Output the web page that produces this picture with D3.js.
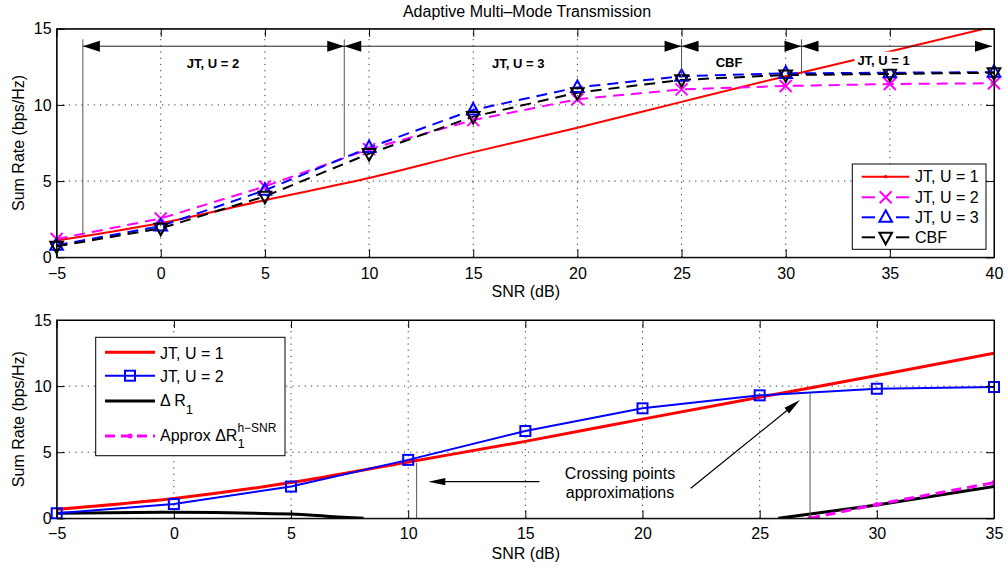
<!DOCTYPE html>
<html><head><meta charset="utf-8">
<script src="https://cdn.jsdelivr.net/npm/d3@7/dist/d3.min.js"></script>
<style>
html,body{margin:0;padding:0;background:#fff;}
svg{display:block;font-family:"Liberation Sans",Arial,Helvetica,sans-serif;}
</style></head>
<body>
<svg id="chart" width="1007" height="570"></svg>
<script>
// ---------------- DATA ----------------
const snrTop = [-5, 0, 5, 10, 15, 20, 25, 30, 35, 40];
const jtU1Top = [1.1, 2.25, 3.75, 5.2, 6.9, 8.5, 10.2, 11.88, 13.5, 15.15];
const jtU2Top = [1.2, 2.55, 4.65, 7.1, 9.0, 10.37, 11.02, 11.24, 11.37, 11.42];
const jtU3Top = [0.8, 2.05, 4.4, 7.2, 9.67, 11.15, 11.88, 12.07, 12.11, 12.15];
const cbfTop = [0.72, 1.9, 4.0, 6.8, 9.23, 10.8, 11.64, 11.96, 12.03, 12.11];

const modeBounds = [-3.74, 8.81, 25, 30.76, 40];       // switching SNRs (dB)
const modeBoundTops = [14.3, 14.3, 14.3, 14.3];         // top of vertical markers
const modeBoundBottoms = [1.45, 6.6, 11.75, 12.0];      // curve value at switching SNR
const modeArrowLevel = 13.85;
const modeLabels = ["JT, U = 2", "JT, U = 3", "CBF", "JT, U = 1"];
const modeLabelX = [2.51, 17.16, 27.28, 34.7];
const modeLabelY = [12.72, 12.72, 12.8, 12.94];

const snrBot = [-5, 0, 5, 10, 15, 20, 25, 30, 35];
const jtU1Bot = [0.68, 1.5, 2.7, 4.26, 5.82, 7.5, 9.16, 10.8, 12.48];
const jtU2Bot = [0.38, 1.08, 2.4, 4.42, 6.6, 8.32, 9.3, 9.8, 9.93];
const deltaSnrA = [-5, 0, 5, 6.8, 8.1];
const deltaValA = [0.38, 0.45, 0.32, 0.12, 0];
const deltaSnrB = [25.8, 30, 35];
const deltaValB = [0, 1.0, 2.4];
const approxSnr = [27.15, 30, 35];
const approxVal = [0, 1.05, 2.7];
const crossSnr = [10.36, 27.15];
const crossVal = [4.2, 9.45];

const xTicksTop = [-5, 0, 5, 10, 15, 20, 25, 30, 35, 40];
const xTicksBot = [-5, 0, 5, 10, 15, 20, 25, 30, 35];
const yTicks = [0, 5, 10, 15];

// ---------------- SETUP ----------------
const svg = d3.select("#chart");
const FONT = 16;
const fmt = v => (v < 0 ? "\u2212" + Math.abs(v) : String(v));

function drawAxes(g, x, y, xTicks) {
  const [x0, x1] = x.range(), [y0, y1] = y.range();
  const grid = g.append("g").attr("stroke", "#333").attr("stroke-width", 1)
    .attr("stroke-dasharray", "1.2,5");
  xTicks.forEach(t => {
    if (t === xTicks[0] || t === xTicks[xTicks.length - 1]) return;
    grid.append("line").attr("x1", x(t)).attr("x2", x(t)).attr("y1", y0).attr("y2", y1);
  });
  yTicks.forEach(t => {
    if (t === yTicks[0] || t === yTicks[yTicks.length - 1]) return;
    grid.append("line").attr("x1", x0).attr("x2", x1).attr("y1", y(t)).attr("y2", y(t));
  });
}

function drawFrame(g, x, y, xTicks, tickLabelBase, xLabelBase) {
  const [x0, x1] = x.range(), [y0, y1] = y.range();
  const TL = 8;
  const bottom = d3.axisBottom(x).tickValues(xTicks).tickFormat(fmt).tickSizeInner(-TL).tickSizeOuter(0).tickPadding(TL + 7);
  const top = d3.axisTop(x).tickValues(xTicks).tickFormat("").tickSizeInner(-TL).tickSizeOuter(0);
  const left = d3.axisLeft(y).tickValues(yTicks).tickFormat(fmt).tickSizeInner(-TL).tickSizeOuter(0).tickPadding(TL + 5);
  const right = d3.axisRight(y).tickValues(yTicks).tickFormat("").tickSizeInner(-TL).tickSizeOuter(0);
  const style = sel => {
    sel.selectAll("path").attr("stroke", "#000").attr("stroke-width", 1);
    sel.selectAll("line").attr("stroke", "#000").attr("stroke-width", 1);
    sel.selectAll("text").attr("fill", "#000").style("font-size", FONT + "px")
      .style("font-family", '"Liberation Sans",Arial,sans-serif');
  };
  g.append("g").attr("transform", `translate(0,${y0})`).call(bottom).call(style)
    .selectAll("text").attr("dy", null).attr("y", null)
    .attr("transform", `translate(0,${tickLabelBase - y0})`);
  g.append("g").attr("transform", `translate(0,${y1})`).call(top).call(style);
  g.append("g").attr("transform", `translate(${x0},0)`).call(left).call(style)
    .selectAll("text").attr("x", -5);
  g.append("g").attr("transform", `translate(${x1},0)`).call(right).call(style);
  g.append("rect").attr("x", x0).attr("y", y1).attr("width", x1 - x0).attr("height", y0 - y1)
    .attr("fill", "none").attr("stroke", "#000").attr("stroke-width", 1);
  g.append("text").attr("x", (x0 + x1) / 2 + 0.5).attr("y", xLabelBase).attr("text-anchor", "middle")
    .style("font-size", FONT + "px").text("SNR (dB)");
  g.append("text").attr("transform", `translate(23.5,${(y0 + y1) / 2}) rotate(-90)`)
    .attr("text-anchor", "middle").style("font-size", FONT + "px").text("Sum Rate (bps/Hz)");
}

function arrowHead(g, xt, yt, angle, len, half, fill) {
  const ca = Math.cos(angle), sa = Math.sin(angle);
  const bx = xt - len * ca, by = yt - len * sa;
  const px = -sa * half, py = ca * half;
  g.append("path").attr("d", `M${xt},${yt}L${bx + px},${by + py}L${bx - px},${by - py}Z`)
    .attr("fill", fill || "#000").attr("stroke", "none");
}

function markerX(g, cx, cy, s, color) {
  g.append("path").attr("d", `M${cx - s},${cy - s}L${cx + s},${cy + s}M${cx - s},${cy + s}L${cx + s},${cy - s}`)
    .attr("stroke", color).attr("stroke-width", 2).attr("fill", "none");
}
function markerTri(g, cx, cy, s, color, up) {
  const d = up
    ? `M${cx},${cy - s}L${cx + s * 0.9},${cy + s * 0.65}L${cx - s * 0.9},${cy + s * 0.65}Z`
    : `M${cx},${cy + s}L${cx + s * 0.9},${cy - s * 0.65}L${cx - s * 0.9},${cy - s * 0.65}Z`;
  g.append("path").attr("d", d).attr("stroke", color).attr("stroke-width", 2).attr("fill", "none");
}
function markerSq(g, cx, cy, s, color) {
  g.append("rect").attr("x", cx - s).attr("y", cy - s).attr("width", 2 * s).attr("height", 2 * s)
    .attr("stroke", color).attr("stroke-width", 2).attr("fill", "none");
}

// ---------------- TITLE ----------------
svg.append("text").attr("x", 527).attr("y", 16.5).attr("text-anchor", "middle")
  .style("font-size", "16px").text("Adaptive Multi\u2013Mode Transmission");

// ---------------- TOP CHART ----------------
const xT = d3.scaleLinear().domain([-5, 40]).range([56.6, 994]);
const yT = d3.scaleLinear().domain([0, 15]).range([257.3, 28.7]);
const gT = svg.append("g");
drawAxes(gT, xT, yT, xTicksTop);

svg.append("defs").append("clipPath").attr("id", "clipTop").append("rect")
  .attr("x", 56.6).attr("y", 28.7).attr("width", 994 - 56.6).attr("height", 257.3 - 28.7);

const plotT = gT.append("g").attr("clip-path", "url(#clipTop)");
const lineT = d3.line().x(d => xT(d[0])).y(d => yT(d[1]));
const zipT = arr => snrTop.map((s, i) => [s, arr[i]]);

plotT.append("path").datum(zipT(jtU1Top)).attr("d", lineT.curve(d3.curveMonotoneX))
  .attr("fill", "none").attr("stroke", "#ff0000").attr("stroke-width", 2);
lineT.curve(d3.curveLinear);
const DASH = "11,7";
[[jtU2Top, "#ff00ff"], [jtU3Top, "#0000ff"], [cbfTop, "#000000"]].forEach(([arr, c]) => {
  plotT.append("path").datum(zipT(arr)).attr("d", lineT).attr("fill", "none")
    .attr("stroke", c).attr("stroke-width", 2).attr("stroke-dasharray", DASH);
});
const mT = gT.append("g");
snrTop.forEach((s, i) => markerX(mT, xT(s), yT(jtU2Top[i]), 6, "#ff00ff"));
snrTop.forEach((s, i) => markerTri(mT, xT(s), yT(jtU3Top[i]), 7, "#0000ff", true));
snrTop.forEach((s, i) => markerTri(mT, xT(s), yT(cbfTop[i]), 7, "#000000", false));

// mode annotations
const annT = gT.append("g");
modeBounds.slice(0, 4).forEach((b, i) => {
  annT.append("line").attr("x1", xT(b)).attr("x2", xT(b))
    .attr("y1", yT(modeBoundTops[i])).attr("y2", yT(modeBoundBottoms[i]))
    .attr("stroke", "#555").attr("stroke-width", 1);
});
for (let i = 0; i < 4; i++) {
  const a = xT(modeBounds[i]), b = xT(modeBounds[i + 1]) - (i === 3 ? 2 : 0), yy = yT(modeArrowLevel);
  annT.append("line").attr("x1", a).attr("x2", b).attr("y1", yy).attr("y2", yy)
    .attr("stroke", "#222").attr("stroke-width", 1);
  arrowHead(annT, a, yy, Math.PI, 17, 5.5);
  arrowHead(annT, b, yy, 0, 17, 5.5);
  const bg = annT.append("rect").attr("fill", "#fff");
  const t = annT.append("text").attr("x", xT(modeLabelX[i])).attr("y", yT(modeLabelY[i])).attr("dy", "0.35em")
    .attr("text-anchor", "middle").style("font-size", "13px").style("font-weight", "bold")
    .text(modeLabels[i]);
  const bb = t.node().getBBox();
  bg.attr("x", bb.x - 3).attr("y", bb.y - 1).attr("width", bb.width + 6).attr("height", bb.height + 2);
}
drawFrame(gT, xT, yT, xTicksTop, 279, 297);

// legend top
const lgT = gT.append("g");
lgT.append("rect").attr("x", 852.3).attr("y", 164).attr("width", 986 - 852.3).attr("height", 249.3 - 164)
  .attr("fill", "#fff").attr("stroke", "#000").attr("stroke-width", 1);
const legTopItems = [
  {label: "JT, U = 1", color: "#ff0000", dash: null, mk: "dot"},
  {label: "JT, U = 2", color: "#ff00ff", dash: DASH, mk: "x"},
  {label: "JT, U = 3", color: "#0000ff", dash: DASH, mk: "up"},
  {label: "CBF", color: "#000000", dash: DASH, mk: "down"}
];
const legTopRows = [176.7, 197.3, 217.3, 237.3];
legTopItems.forEach((it, i) => {
  const yy = legTopRows[i];
  if (it.dash) {
    lgT.append("line").attr("x1", 861.7).attr("x2", 875).attr("y1", yy).attr("y2", yy)
      .attr("stroke", it.color).attr("stroke-width", 2);
    lgT.append("line").attr("x1", 896).attr("x2", 909.3).attr("y1", yy).attr("y2", yy)
      .attr("stroke", it.color).attr("stroke-width", 2);
  } else {
    lgT.append("line").attr("x1", 861.7).attr("x2", 909.3).attr("y1", yy).attr("y2", yy)
      .attr("stroke", it.color).attr("stroke-width", 2);
    lgT.append("circle").attr("cx", 885.7).attr("cy", yy).attr("r", 1.6).attr("fill", it.color);
  }
  const cx = 885.7;
  if (it.mk === "x") markerX(lgT, cx, yy, 6, it.color);
  if (it.mk === "up") markerTri(lgT, cx, yy, 7, it.color, true);
  if (it.mk === "down") markerTri(lgT, cx, yy, 7, it.color, false);
  lgT.append("text").attr("x", 915).attr("y", yy).attr("dy", "0.36em").style("font-size", FONT + "px").text(it.label);
});

// ---------------- BOTTOM CHART ----------------
const xB = d3.scaleLinear().domain([-5, 35]).range([56.7, 994]);
const yB = d3.scaleLinear().domain([0, 15]).range([518.3, 320]);
const gB = svg.append("g");
drawAxes(gB, xB, yB, xTicksBot);
svg.select("defs").append("clipPath").attr("id", "clipBot").append("rect")
  .attr("x", 56.7).attr("y", 320).attr("width", 994 - 56.7).attr("height", 518.3 - 320);
const plotB = gB.append("g").attr("clip-path", "url(#clipBot)");
const lineB = d3.line().x(d => xB(d[0])).y(d => yB(d[1]));
const zipB = (xs, ys) => xs.map((s, i) => [s, ys[i]]);

crossSnr.forEach((s, i) => {
  gB.append("line").attr("x1", xB(s)).attr("x2", xB(s)).attr("y1", yB(0)).attr("y2", yB(crossVal[i]))
    .attr("stroke", "#555").attr("stroke-width", 1);
});

plotB.append("path").datum(zipB(deltaSnrA, deltaValA)).attr("d", lineB.curve(d3.curveMonotoneX))
  .attr("fill", "none").attr("stroke", "#000").attr("stroke-width", 3);
plotB.append("path").datum(zipB(deltaSnrB, deltaValB)).attr("d", lineB.curve(d3.curveLinear))
  .attr("fill", "none").attr("stroke", "#000").attr("stroke-width", 3);
plotB.append("path").datum(zipB(approxSnr, approxVal)).attr("d", lineB)
  .attr("fill", "none").attr("stroke", "#ff00ff").attr("stroke-width", 3).attr("stroke-dasharray", "10,6");
approxSnr.forEach((s, i) => plotB.append("circle").attr("cx", xB(s)).attr("cy", yB(approxVal[i])).attr("r", 2.5).attr("fill", "#ff00ff"));
plotB.append("path").datum(zipB(snrBot, jtU1Bot)).attr("d", lineB.curve(d3.curveMonotoneX))
  .attr("fill", "none").attr("stroke", "#ff0000").attr("stroke-width", 3);
plotB.append("path").datum(zipB(snrBot, jtU2Bot)).attr("d", lineB.curve(d3.curveLinear))
  .attr("fill", "none").attr("stroke", "#0000ff").attr("stroke-width", 2);
snrBot.forEach((s, i) => markerSq(gB, xB(s), yB(jtU2Bot[i]), 5, "#0000ff"));

const arrowTail1 = [15.6, 2.77], arrowTip1 = [10.86, 2.77];
const arrowTail2 = [22.06, 2.27], arrowTip2 = [26.72, 8.95];
[[arrowTail1, arrowTip1], [arrowTail2, arrowTip2]].forEach(([t, h]) => {
  const x1 = xB(t[0]), y1 = yB(t[1]), x2 = xB(h[0]), y2 = yB(h[1]);
  const ang = Math.atan2(y2 - y1, x2 - x1);
  gB.append("line").attr("x1", x1).attr("y1", y1).attr("x2", x2 - 10 * Math.cos(ang)).attr("y2", y2 - 10 * Math.sin(ang))
    .attr("stroke", "#000").attr("stroke-width", 1.2);
  arrowHead(gB, x2, y2, ang, 17, 3.6);
});
const crossText = gB.append("text").attr("text-anchor", "middle").style("font-size", FONT + "px");
crossText.append("tspan").attr("x", 620).attr("y", 478.5).text("Crossing points");
crossText.append("tspan").attr("x", 620).attr("y", 497.5).text("approximations");

drawFrame(gB, xB, yB, xTicksBot, 539, 558.5);

// legend bottom
const lgB = gB.append("g");
lgB.append("rect").attr("x", 95.7).attr("y", 337.3).attr("width", 285 - 95.7).attr("height", 455.7 - 337.3)
  .attr("fill", "#fff").attr("stroke", "#000").attr("stroke-width", 1);
const lx1 = 105, lx2 = 155, tx = 160;
lgB.append("line").attr("x1", lx1).attr("x2", lx2).attr("y1", 352.3).attr("y2", 352.3).attr("stroke", "#ff0000").attr("stroke-width", 3);
lgB.append("text").attr("x", tx).attr("y", 353.3).attr("dy", "0.36em").style("font-size", FONT + "px").text("JT, U = 1");
lgB.append("line").attr("x1", lx1).attr("x2", lx2).attr("y1", 375.7).attr("y2", 375.7).attr("stroke", "#0000ff").attr("stroke-width", 2);
markerSq(lgB, 130, 375.7, 5, "#0000ff");
lgB.append("text").attr("x", tx).attr("y", 376.3).attr("dy", "0.36em").style("font-size", FONT + "px").text("JT, U = 2");
lgB.append("line").attr("x1", lx1).attr("x2", lx2).attr("y1", 401).attr("y2", 401).attr("stroke", "#000").attr("stroke-width", 3);
const tD = lgB.append("text").attr("x", tx).attr("y", 400).attr("dy", "0.36em").style("font-size", FONT + "px");
tD.append("tspan").text("\u0394 R");
tD.append("tspan").attr("dy", "8").style("font-size", "13px").text("1");
lgB.append("line").attr("x1", lx1).attr("x2", lx2).attr("y1", 436).attr("y2", 436).attr("stroke", "#ff00ff").attr("stroke-width", 3).attr("stroke-dasharray", "10,6");
lgB.append("circle").attr("cx", 130).attr("cy", 436).attr("r", 2.5).attr("fill", "#ff00ff");
const tA = lgB.append("text").attr("x", tx).attr("y", 435).attr("dy", "0.36em").style("font-size", FONT + "px");
tA.append("tspan").text("Approx \u0394R");
tA.append("tspan").attr("dy", "-8.5").style("font-size", "12px").text("h\u2212SNR");
const wMain = tA.select("tspan").node().getComputedTextLength();
lgB.append("text").attr("x", tx + wMain).attr("y", 443.3).attr("dy", "0.36em").style("font-size", "13px").text("1");
</script>
</body></html>
